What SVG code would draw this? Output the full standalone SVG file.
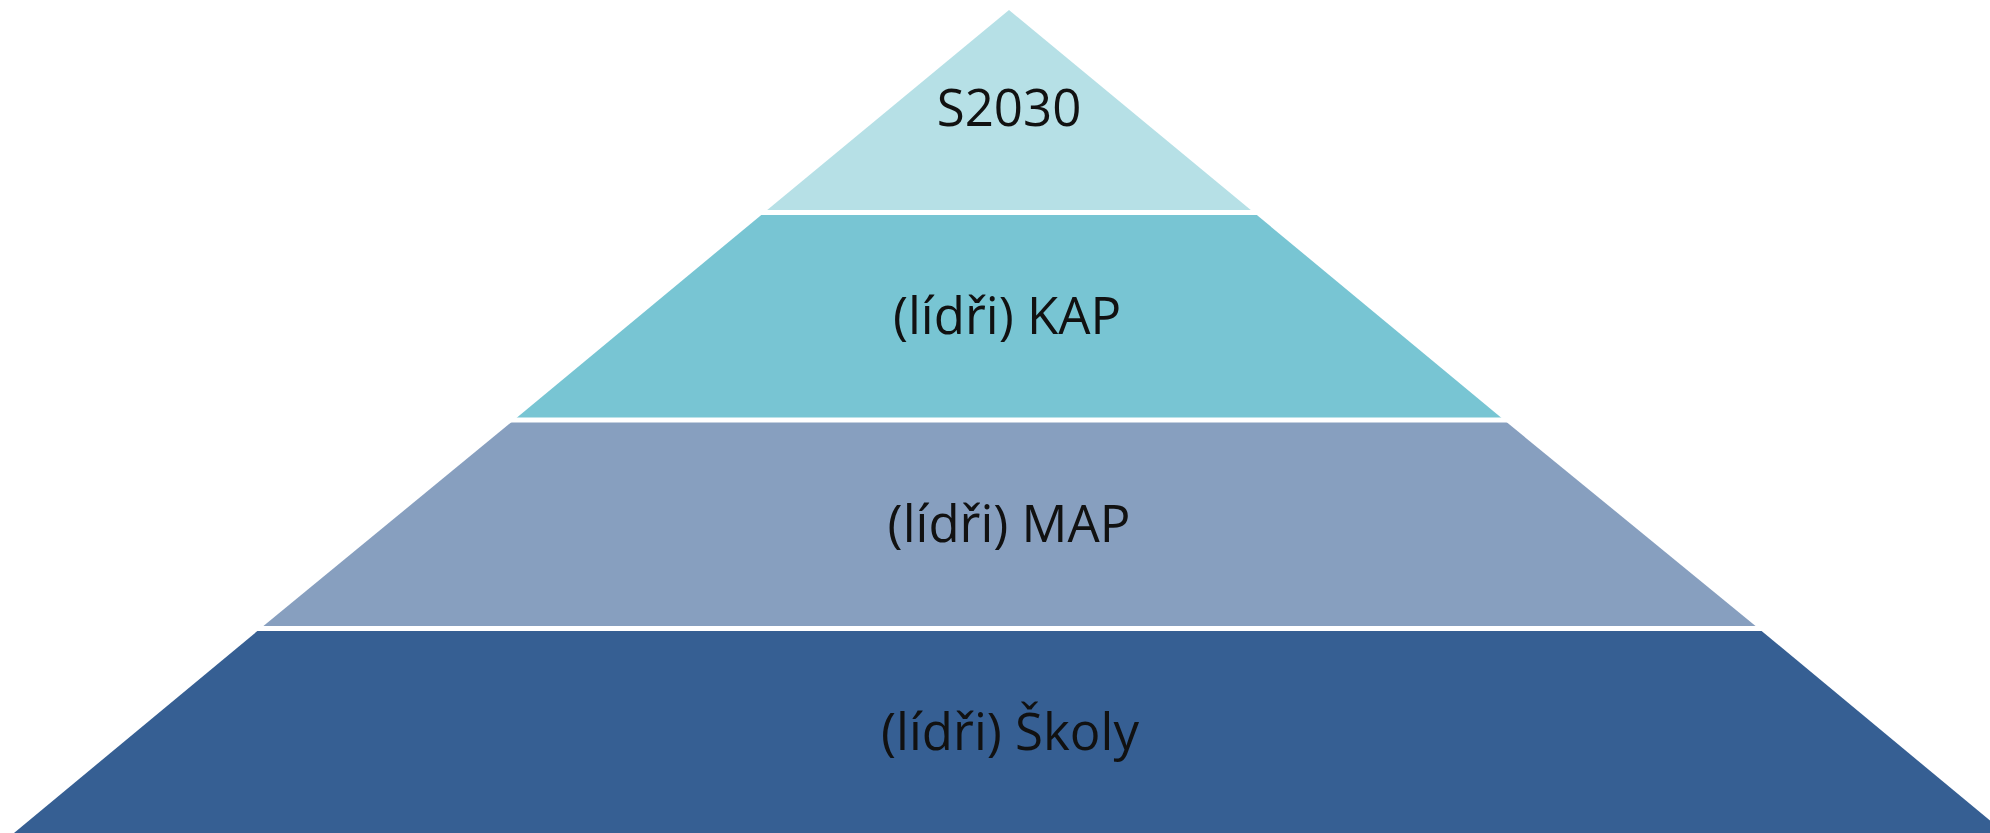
<svg xmlns="http://www.w3.org/2000/svg" width="1990" height="833" viewBox="0 0 1990 833">
<style>
.lbl{font-family:"Open Sans","Noto Sans","Liberation Sans",sans-serif;font-size:51px;fill:#111111;text-anchor:middle}
.sep{stroke:#ffffff;stroke-width:5}
</style>
<rect width="1990" height="833" fill="#ffffff"/>
<g id="tier-s2030">
<polygon points="1009,10 1252,211 766,211" fill="#B6E0E6"/>
<text class="lbl" x="1009" y="126">S2030</text>
</g>
<g id="tier-kap">
<polygon points="766,211 1252,211 1504,420 514,420" fill="#78C5D3"/>
<text class="lbl" x="1007" y="334">(lídři) KAP</text>
</g>
<g id="tier-map">
<polygon points="514,420 1504,420 1758,628 261,628" fill="#879FBF"/>
<text class="lbl" x="1009" y="542">(lídři) MAP</text>
</g>
<g id="tier-skoly">
<polygon points="261,628 1758,628 2011,838 8,838" fill="#365F93"/>
<text class="lbl" x="1010" y="750">(lídři) Školy</text>
</g>
<g id="connectors">
<line class="sep" x1="700" y1="212.5" x2="1320" y2="212.5"/>
<line class="sep" x1="450" y1="420" x2="1570" y2="420"/>
<line class="sep" x1="200" y1="628.5" x2="1820" y2="628.5"/>
</g>
</svg>
